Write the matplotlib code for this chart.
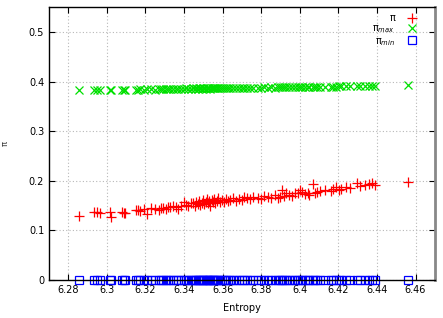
import matplotlib
matplotlib.use("Agg")
import matplotlib.pyplot as plt

entropy = [6.2853, 6.2935, 6.2950, 6.2965, 6.3017, 6.3020, 6.3078, 6.3090, 6.3095,
           6.3150, 6.3160, 6.3172, 6.3190, 6.3210, 6.3230, 6.3250, 6.3268, 6.3280, 6.3292,
           6.3307, 6.3318, 6.3328, 6.3345, 6.3360, 6.3371,
           6.3385, 6.3400, 6.3410, 6.3422, 6.3435, 6.3448, 6.3455, 6.3462, 6.3470, 6.3478,
           6.3485, 6.3492, 6.3500, 6.3506, 6.3512, 6.3518, 6.3525, 6.3531, 6.3537, 6.3543,
           6.3550, 6.3556, 6.3562, 6.3570, 6.3578, 6.3585, 6.3595, 6.3605, 6.3615, 6.3628,
           6.3640, 6.3655, 6.3670, 6.3685, 6.3699, 6.3710, 6.3724, 6.3740, 6.3760, 6.3785,
           6.3800, 6.3815, 6.3836, 6.3850, 6.3870, 6.3885, 6.3897, 6.3910, 6.3920, 6.3930,
           6.3945, 6.3960, 6.3975, 6.3990, 6.4000, 6.4010, 6.4025, 6.4040,
           6.4050, 6.4066, 6.4080, 6.4090, 6.4105, 6.4130, 6.4160, 6.4172, 6.4190, 6.4205,
           6.4216, 6.4240, 6.4260, 6.4294, 6.4310,
           6.4340, 6.4359, 6.4376, 6.4390, 6.4560]

pi = [0.129, 0.138, 0.137, 0.136, 0.138, 0.126, 0.138, 0.135, 0.136,
      0.142, 0.141, 0.139, 0.143, 0.133, 0.145, 0.144, 0.141, 0.146, 0.146,
      0.143, 0.148, 0.147, 0.150, 0.148, 0.144,
      0.150, 0.157, 0.152, 0.149, 0.155, 0.155, 0.150, 0.158, 0.154, 0.160,
      0.152, 0.156, 0.161, 0.153, 0.158, 0.163, 0.155, 0.159, 0.150, 0.162,
      0.157, 0.163, 0.155, 0.160, 0.165, 0.158, 0.162, 0.157, 0.164, 0.160,
      0.162, 0.166, 0.160, 0.163, 0.161, 0.167, 0.165, 0.163, 0.167, 0.165,
      0.163, 0.170, 0.168, 0.165, 0.172, 0.166, 0.168, 0.181, 0.170, 0.175,
      0.172, 0.170, 0.176, 0.175, 0.181, 0.177, 0.173, 0.175,
      0.171, 0.193, 0.176, 0.178, 0.180, 0.181, 0.179, 0.183, 0.187, 0.182,
      0.183, 0.188, 0.185, 0.196, 0.190,
      0.191, 0.193, 0.195, 0.192, 0.198]

pi_max = [0.382, 0.383, 0.383, 0.383, 0.383, 0.384, 0.383, 0.384, 0.384,
          0.384, 0.384, 0.385, 0.384, 0.385, 0.385, 0.384, 0.385, 0.385, 0.386,
          0.385, 0.385, 0.386, 0.385, 0.386, 0.386,
          0.386, 0.386, 0.387, 0.386, 0.386, 0.387, 0.386, 0.387, 0.386, 0.387,
          0.387, 0.386, 0.387, 0.387, 0.386, 0.387, 0.387, 0.387, 0.386, 0.387,
          0.387, 0.387, 0.387, 0.388, 0.387, 0.387, 0.388, 0.387, 0.388, 0.387,
          0.388, 0.388, 0.387, 0.388, 0.388, 0.388, 0.388, 0.388, 0.388, 0.388,
          0.388, 0.389, 0.388, 0.389, 0.388, 0.389, 0.389, 0.389, 0.389, 0.389,
          0.389, 0.389, 0.389, 0.390, 0.389, 0.389, 0.390, 0.389,
          0.389, 0.389, 0.389, 0.389, 0.390, 0.390, 0.390, 0.390, 0.390, 0.391,
          0.391, 0.391, 0.391, 0.391, 0.391,
          0.391, 0.392, 0.392, 0.392, 0.393]

pi_min = [0.0] * len(entropy)

xticks = [6.28, 6.30, 6.32, 6.34, 6.36, 6.38, 6.40, 6.42, 6.44, 6.46]
xtick_labels = ["6.28", "6.3", "6.32", "6.34", "6.36", "6.38", "6.4", "6.42", "6.44", "6.46"]
yticks = [0, 0.1, 0.2, 0.3, 0.4, 0.5]
ytick_labels = ["0", "0.1", "0.2", "0.3", "0.4", "0.5"]

plt.rcParams["font.family"] = ["DejaVu Sans"]
fig = plt.figure(figsize=(4.43, 3.18), dpi=100)
ax = fig.add_axes([0.1106, 0.1195, 0.871, 0.858])

ax.plot(entropy, pi, linestyle="none", marker="+", color="#ff0000",
        markersize=7, markeredgewidth=0.9, label="π")
ax.plot(entropy, pi_max, linestyle="none", marker="x", color="#00e000",
        markersize=5.5, markeredgewidth=0.9, label="π$_{max}$")
ax.plot(entropy, pi_min, linestyle="none", marker="s", markerfacecolor="none",
        markeredgecolor="#0000ff", markersize=6, markeredgewidth=0.9,
        label="π$_{min}$", clip_on=False)

ax.set_xlim(6.27, 6.47)
ax.set_ylim(0, 0.55)
ax.set_xticks(xticks)
ax.set_xticklabels(xtick_labels)
ax.set_yticks(yticks)
ax.set_yticklabels(ytick_labels)
ax.tick_params(direction="in", top=True, right=True, labelsize=7, length=4, width=0.8)
ax.grid(True, color="#b8b8b8", linestyle=(0, (1, 2)), linewidth=0.8)
ax.set_axisbelow(True)
for sp in ax.spines.values():
    sp.set_linewidth(1.0)
ax.spines["right"].set_color("#888888")
ax.spines["right"].set_linewidth(2.0)

ax.set_xlabel("Entropy", fontsize=7, labelpad=6)
ax.set_ylabel("π", fontsize=6, labelpad=14, rotation=90, color="#333333")

ax.legend(loc="upper right", bbox_to_anchor=(0.975, 1.0), frameon=False,
          markerfirst=False, fontsize=7, handletextpad=1.0, labelspacing=0.05,
          borderaxespad=0.2, handlelength=1.5)

fig.savefig("out.png", dpi=100)
